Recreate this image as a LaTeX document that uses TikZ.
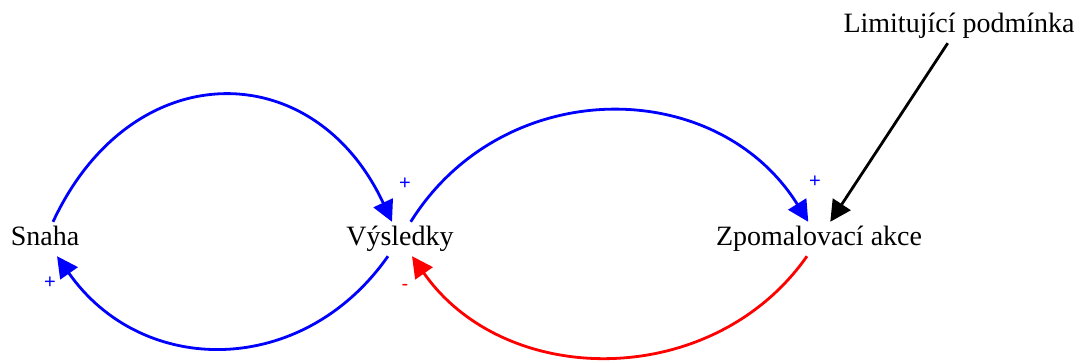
\documentclass[tikz,border=0pt]{standalone}
\usepackage{fontspec}
\setmainfont{Liberation Serif}
\newfontfamily\signfont{Liberation Sans}
\usetikzlibrary{arrows.meta}
\definecolor{lblue}{RGB}{0,0,255}
\definecolor{lred}{RGB}{255,0,0}
\tikzset{
  var/.style={inner xsep=2pt, inner ysep=0pt, text height=24pt, text depth=10pt, anchor=base, font=\fontsize{28}{31}\selectfont},
  link/.style={line width=2.8pt, -{Triangle[length=21pt,width=21pt]}},
  sign/.style={font=\signfont\fontsize{20}{22}\selectfont, inner sep=0pt}
}
\begin{document}
\begin{tikzpicture}[x=1pt,y=1pt]
\useasboundingbox (0,0) rectangle (1080,362);
\node[var] (snaha) at (45,116) {Snaha};
\node[var] (vys) at (400,116) {Výsledky};
\node[var] (zpom) at (819,116) {Zpomalovací akce};
\node[var] (lim) at (959,329) {Limitující podmínka};
\draw[link, lblue] (snaha) to[out=65,in=115,looseness=1.4] (vys);
\draw[link, lblue] (vys) to[out=-125,in=-55,looseness=1.15] (snaha);
\draw[link, lblue] (vys) to[out=58,in=122,looseness=1.12] (zpom);
\draw[link, lred] (zpom) to[out=-125,in=-55,looseness=1.06] (vys);
\draw[link, black] (lim) -- (zpom);
\node[sign, lblue] (p1) at (405,178) {+};
\node[sign, lblue] (p2) at (815,180) {+};
\node[sign, lblue] (p3) at (50,79) {+};
\node[sign, lred] (m1) at (405,75) {-};
\end{tikzpicture}
\end{document}
